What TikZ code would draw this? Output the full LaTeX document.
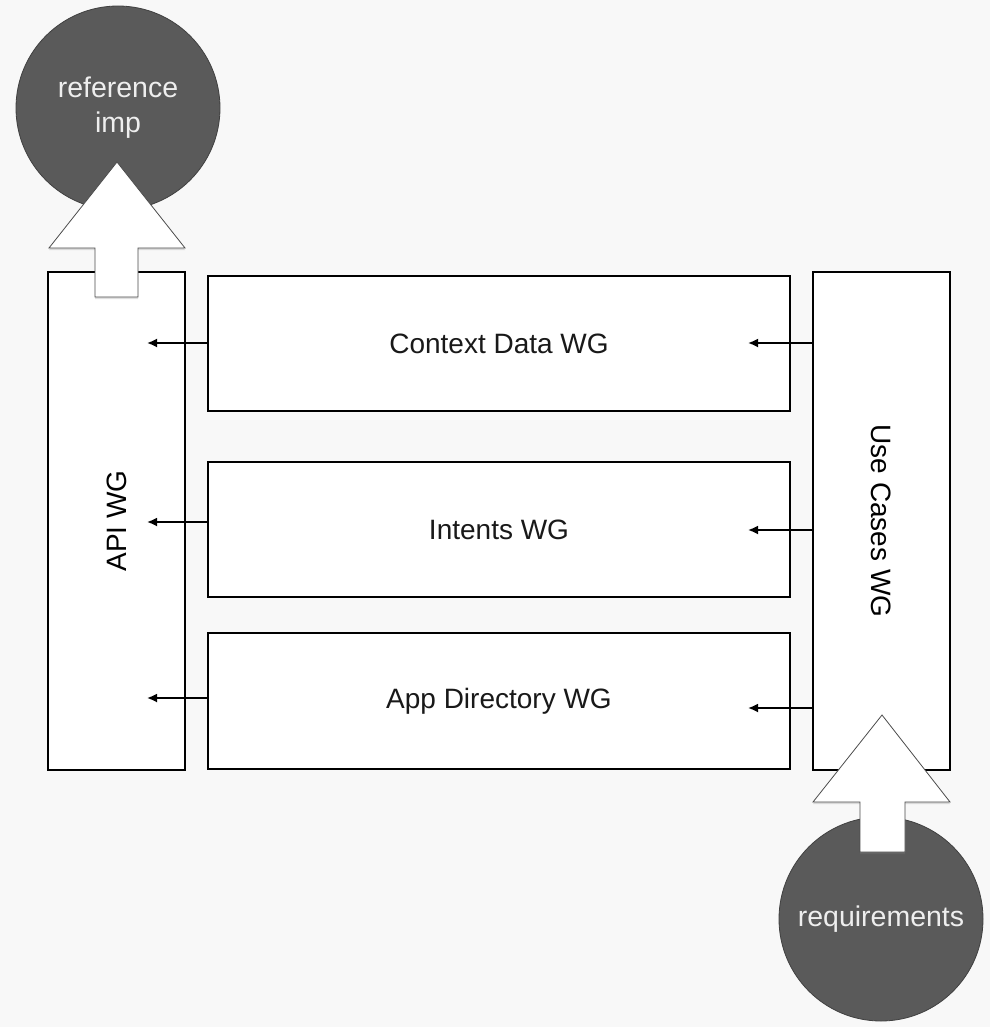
\documentclass[tikz,border=0pt]{standalone}
\usepackage{fontspec}
\setmainfont{Liberation Sans}
\usetikzlibrary{arrows.meta,shadows}

\definecolor{bggray}{HTML}{F8F8F8}
\definecolor{bubblegray}{HTML}{5A5A5A}
\definecolor{bubbletext}{HTML}{EEEEEE}

\tikzset{
    wgbox/.style={draw=black, line width=2.2pt, fill=white, inner sep=0pt,
        text=black!90, font=\fontsize{28}{32}\selectfont},
    bubble/.style={circle, draw=black!75, line width=0.8pt, fill=bubblegray,
        text=bubbletext, align=center, inner sep=0pt, minimum size=204pt,
        font=\fontsize{28.5}{35}\selectfont},
    bigarrow/.style={draw=black!70, line width=0.8pt, fill=white,
        drop shadow={opacity=0.25, shadow xshift=0pt, shadow yshift=-2pt}},
    feed/.style={-{Latex[length=10pt,width=9pt]}, line width=1.8pt}
}

\begin{document}
\begin{tikzpicture}[x=1pt, y=-1pt]
    \path[use as bounding box, fill=bggray] (0,0) rectangle (990,1027);

    % working groups
    \node[wgbox, minimum width=137pt, minimum height=498pt] (api) at (116.5,521) {};
    \node[rotate=90, font=\fontsize{28}{32}\selectfont] (apilbl) at (api.center) {API WG};
    \node[wgbox, minimum width=137pt, minimum height=498pt] (usecases) at (881.5,521) {};
    \node[rotate=-90, font=\fontsize{28}{32}\selectfont] (uclbl) at (usecases.center) {Use Cases WG};

    \node[wgbox, minimum width=582pt, minimum height=135pt] (context) at (499,343.5) {Context Data WG};
    \node[wgbox, minimum width=582pt, minimum height=135pt] (intents) at (499,529.5) {Intents WG};
    \node[wgbox, minimum width=582pt, minimum height=136pt] (appdir) at (499,701) {App Directory WG};

    % inputs and outputs
    \node[bubble] (refimp) at (118,108) {reference\\imp};
    \node[bubble] (reqs) at (881,919) {requirements};

    \path[bigarrow] (117,162) -- (185,248) -- (138,248) -- (138,297)
        -- (95,297) -- (95,248) -- (49,248) -- cycle;
    \path[bigarrow] (882,715) -- (950,802) -- (905,802) -- (905,852)
        -- (860,852) -- (860,802) -- (813,802) -- cycle;

    % feeds between groups
    \coordinate (c1) at (147,343);
    \coordinate (c2) at (147,522);
    \coordinate (c3) at (147,698);
    \coordinate (u1) at (748,343);
    \coordinate (u2) at (748,530);
    \coordinate (u3) at (748,708);

    \draw[feed] (context.west |- c1) -- (c1);
    \draw[feed] (intents.west |- c2) -- (c2);
    \draw[feed] (appdir.west |- c3) -- (c3);
    \draw[feed] (usecases.west |- u1) -- (u1);
    \draw[feed] (usecases.west |- u2) -- (u2);
    \draw[feed] (usecases.west |- u3) -- (u3);
\end{tikzpicture}
\end{document}
